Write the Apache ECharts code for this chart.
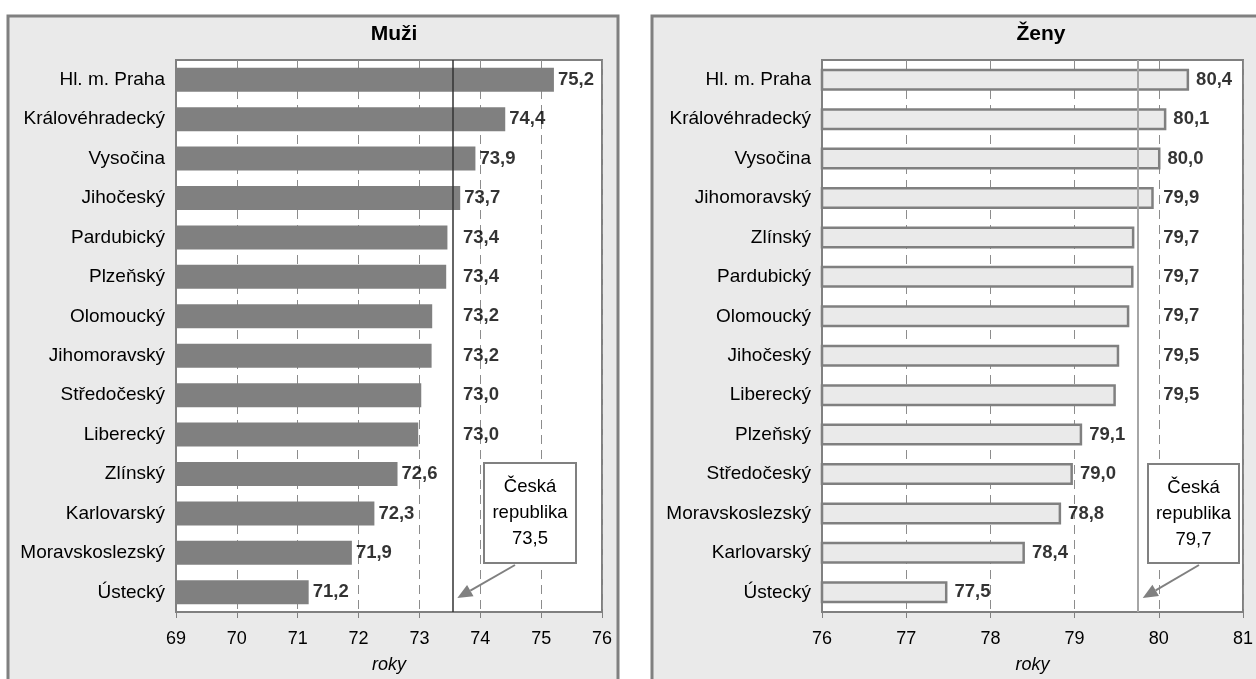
<!DOCTYPE html>
<html>
<head>
<meta charset="utf-8">
<script src="https://cdn.jsdelivr.net/npm/echarts@6/dist/echarts.min.js"></script>
<style>
html,body{margin:0;padding:0;background:#fff;overflow:hidden;}
#c{width:1256px;height:679px;}
</style>
</head>
<body>
<div id="c"></div>
<script>
// ---- data ----
const categoriesM = ['Hl. m. Praha','Královéhradecký','Vysočina','Jihočeský','Pardubický','Plzeňský','Olomoucký','Jihomoravský','Středočeský','Liberecký','Zlínský','Karlovarský','Moravskoslezský','Ústecký'];
const valuesM = [75.21, 74.41, 73.92, 73.67, 73.46, 73.44, 73.21, 73.20, 73.03, 72.98, 72.64, 72.26, 71.89, 71.18];
const labelsM = ['75,2','74,4','73,9','73,7','73,4','73,4','73,2','73,2','73,0','73,0','72,6','72,3','71,9','71,2'];
const avgM = 73.54;
const avgLabelM = '73,5';

const categoriesZ = ['Hl. m. Praha','Královéhradecký','Vysočina','Jihomoravský','Zlínský','Pardubický','Olomoucký','Jihočeský','Liberecký','Plzeňský','Středočeský','Moravskoslezský','Karlovarský','Ústecký'];
const valuesZ = [80.36, 80.09, 80.02, 79.94, 79.71, 79.70, 79.65, 79.53, 79.49, 79.09, 78.98, 78.84, 78.41, 77.49];
const labelsZ = ['80,4','80,1','80,0','79,9','79,7','79,7','79,7','79,5','79,5','79,1','79,0','78,8','78,4','77,5'];
const avgZ = 79.75;
const avgLabelZ = '79,7';

const ticksM = {min: 69, max: 76, interval: 1};
const ticksZ = {min: 76, max: 81, interval: 1};
const titles = ['Muži', 'Ženy'];
const axisName = 'roky';
const annotText = ['Česká', 'republika'];

// ---- styling ----
const FONT = '"Liberation Sans", Arial, sans-serif';
const GRAY = '#808080';

function labelAnchors(values, avg, clearance, reach) {
  return values.map(v => (v > avg - reach && v < avg + clearance) ? avg + clearance : v);
}
const anchorsM = labelAnchors(valuesM, avgM, 0.11, 0.6);
const anchorsZ = labelAnchors(valuesZ, avgZ, 0.22, 0.6);

function xAxisDef(gridIndex, t) {
  return {
    type: 'value', gridIndex, min: t.min, max: t.max, interval: t.interval,
    name: axisName, nameLocation: 'middle', nameGap: 44,
    nameTextStyle: {fontFamily: FONT, fontSize: 18, fontStyle: 'italic', color: '#000'},
    axisLine: {show: true, lineStyle: {color: GRAY, width: 2}},
    axisTick: {show: true, length: 6, lineStyle: {color: GRAY, width: 1}},
    axisLabel: {fontFamily: FONT, fontSize: 18, color: '#000', margin: 18},
    splitLine: {show: true, lineStyle: {color: '#8c8c8c', type: [9, 6], width: 1}}
  };
}
function yAxisDef(gridIndex, cats) {
  return {
    type: 'category', gridIndex, data: cats, inverse: true,
    axisLine: {show: true, lineStyle: {color: GRAY, width: 2}},
    axisTick: {show: false},
    axisLabel: {fontFamily: FONT, fontSize: 19, color: '#000', margin: 11}
  };
}
function labelSeries(idx, cats, anchors, labels, dist) {
  return {
    type: 'scatter', xAxisIndex: idx, yAxisIndex: idx, symbolSize: 0, silent: true,
    data: anchors.map((a, i) => [a, cats[i]]),
    label: {show: true, position: 'right', distance: dist,
      formatter: p => labels[p.dataIndex],
      fontFamily: FONT, fontSize: 18.5, fontWeight: 'bold', color: '#000'},
    z: 5
  };
}

const chart = echarts.init(document.getElementById('c'), null, {renderer: 'canvas'});
const grids = [
  {left: 176, top: 60, width: 426, height: 552, show: true, backgroundColor: '#fff', borderColor: GRAY, borderWidth: 2},
  {left: 822, top: 60, width: 427, height: 552, show: true, backgroundColor: '#fff', borderColor: GRAY, borderWidth: 2}
];

const option = {
  backgroundColor: '#fff',
  animation: false,
  title: [
    {text: titles[0], left: 389, top: 19, textAlign: 'center', textStyle: {fontFamily: FONT, fontSize: 21, fontWeight: 'bold', color: '#000'}},
    {text: titles[1], left: 1036, top: 19, textAlign: 'center', textStyle: {fontFamily: FONT, fontSize: 21, fontWeight: 'bold', color: '#000'}}
  ],
  grid: grids,
  xAxis: [xAxisDef(0, ticksM), xAxisDef(1, ticksZ)],
  yAxis: [yAxisDef(0, categoriesM), yAxisDef(1, categoriesZ)],
  series: [
    {
      type: 'bar', xAxisIndex: 0, yAxisIndex: 0, data: valuesM, barWidth: 24,
      itemStyle: {color: GRAY},
      markLine: {silent: true, symbol: 'none', label: {show: false},
        lineStyle: {color: '#333', width: 1.5, type: 'solid'}, data: [{xAxis: avgM}]},
      z: 3
    },
    {
      type: 'bar', xAxisIndex: 1, yAxisIndex: 1, data: valuesZ, barWidth: 22,
      itemStyle: {color: '#eaeaea', borderColor: GRAY, borderWidth: 2.5},
      markLine: {silent: true, symbol: 'none', label: {show: false},
        lineStyle: {color: '#a6a6a6', width: 2, type: 'solid'}, data: [{xAxis: avgZ}]},
      z: 3
    },
    labelSeries(0, categoriesM, anchorsM, labelsM, 4),
    labelSeries(1, categoriesZ, anchorsZ, labelsZ, 7)
  ]
};
chart.setOption(option);

// panels, annotation boxes and arrows
function arrow(x1, y1, x2, y2) {
  const ang = Math.atan2(y2 - y1, x2 - x1);
  const L = 15, W = 6.5;
  const bx = x2 - L * Math.cos(ang), by = y2 - L * Math.sin(ang);
  const px = -Math.sin(ang) * W, py = Math.cos(ang) * W;
  return [
    {type: 'line', shape: {x1, y1, x2: bx, y2: by}, style: {stroke: GRAY, lineWidth: 2}, z: 20},
    {type: 'polygon', shape: {points: [[x2, y2], [bx + px, by + py], [bx - px, by - py]]}, style: {fill: GRAY}, z: 20}
  ];
}
function annot(box, avgLabel, avgX, endY, startDx) {
  const els = [
    {type: 'rect', shape: {x: box.x, y: box.y, width: box.w, height: box.h},
      style: {fill: '#fff', stroke: GRAY, lineWidth: 2}, z: 20},
    {type: 'text', x: box.x + box.w / 2, y: box.y + box.h / 2, z: 21,
      style: {text: annotText[0] + '\n' + annotText[1] + '\n' + avgLabel, align: 'center', verticalAlign: 'middle',
        fontFamily: FONT, fontSize: 18.5, lineHeight: 26, fill: '#000'}}
  ];
  return els.concat(arrow(box.x + startDx, box.y + box.h + 2, avgX + 5, endY));
}
const axM = chart.convertToPixel({xAxisIndex: 0}, avgM);
const axZ = chart.convertToPixel({xAxisIndex: 1}, avgZ);
chart.setOption({
  graphic: [
    {type: 'rect', shape: {x: 8, y: 16, width: 610, height: 700}, style: {fill: '#eaeaea', stroke: GRAY, lineWidth: 3}, z: -10, silent: true},
    {type: 'rect', shape: {x: 652, y: 16, width: 640, height: 700}, style: {fill: '#eaeaea', stroke: GRAY, lineWidth: 3}, z: -10, silent: true}
  ].concat(annot({x: 484, y: 463, w: 92, h: 100}, avgLabelM, axM, 598, 31))
   .concat(annot({x: 1148, y: 464, w: 91, h: 99}, avgLabelZ, axZ, 598, 51))
});
</script>
</body>
</html>
